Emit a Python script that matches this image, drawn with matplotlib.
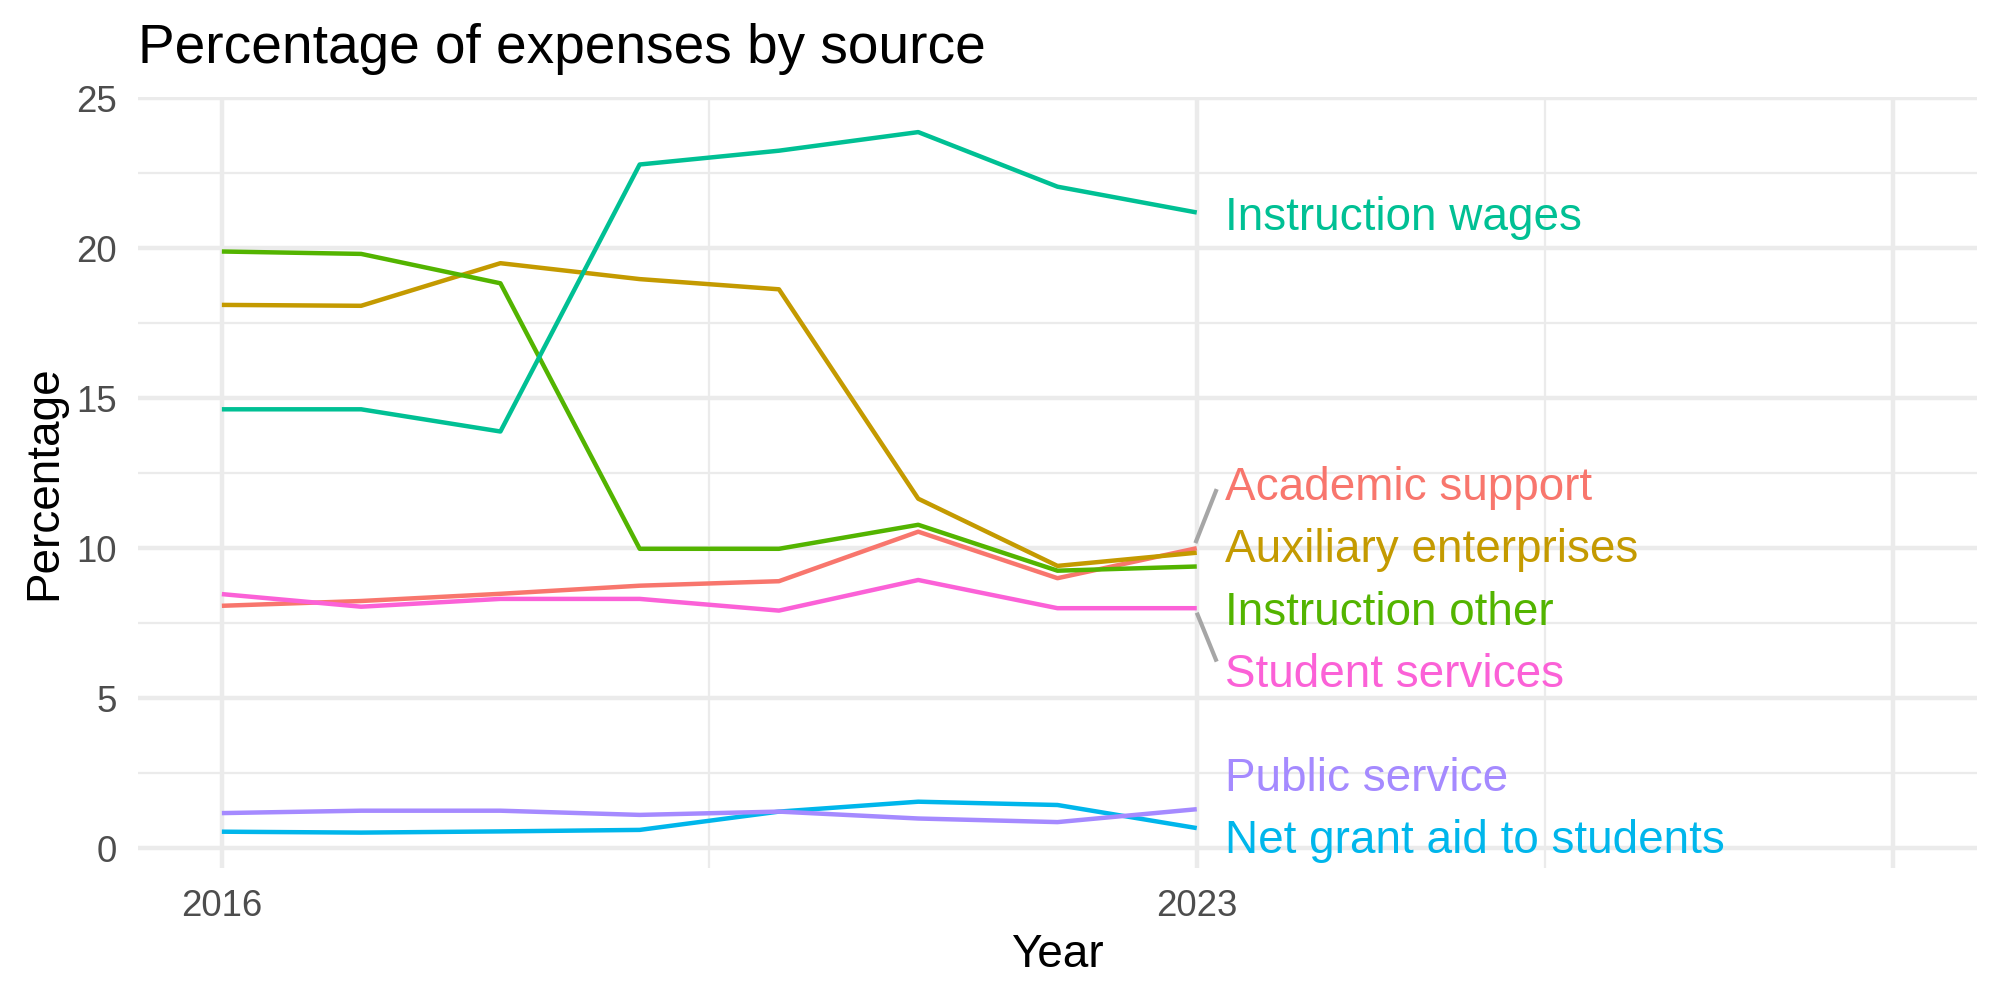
import matplotlib
matplotlib.use("Agg")
import matplotlib.pyplot as plt

plt.rcParams['font.family'] = ['Liberation Sans', 'DejaVu Sans']

# data
years = [2016, 2017, 2018, 2019, 2020, 2021, 2022, 2023]

academic_support = [8.08, 8.24, 8.48, 8.75, 8.90, 10.55, 9.00, 10.00]
auxiliary_enterprises = [18.11, 18.08, 19.50, 18.97, 18.63, 11.65, 9.41, 9.85]
instruction_other = [19.89, 19.81, 18.83, 9.98, 9.98, 10.78, 9.25, 9.39]
instruction_wages = [14.63, 14.63, 13.89, 22.79, 23.25, 23.87, 22.05, 21.19]
net_grant_aid = [0.55, 0.52, 0.56, 0.61, 1.22, 1.55, 1.44, 0.67]
public_service = [1.17, 1.25, 1.25, 1.11, 1.22, 0.99, 0.87, 1.30]
student_services = [8.47, 8.05, 8.31, 8.31, 7.92, 8.94, 8.00, 8.00]

names = ["Academic support", "Auxiliary enterprises", "Instruction other",
         "Instruction wages", "Net grant aid to students", "Public service",
         "Student services"]
series = [academic_support, auxiliary_enterprises, instruction_other,
          instruction_wages, net_grant_aid, public_service, student_services]
colors = ["#F8766D", "#C49A00", "#53B400", "#00C094", "#00B6EB", "#A58AFF", "#FB61D7"]

# where the repelled labels ended up (value units)
label_y = [12.15, 10.09, 8.00, 21.16, 0.40, 2.47, 5.91]
label_x = 2023.2

x_breaks = [2016, 2023, 2028]
x_labels = ["2016", "2023", ""]
x_minor = [2019.5, 2025.5]
y_breaks = [0, 5, 10, 15, 20, 25]
y_minor = [2.5, 7.5, 12.5, 17.5, 22.5]

fig = plt.figure(figsize=(2000 / 300, 1000 / 300), dpi=300)
ax = fig.add_axes([138.3 / 2000, 1 - 867.7 / 1000,
                   (1976.7 - 138.3) / 2000, (867.7 - 96.7) / 1000])

ax.set_xlim(2015.4, 2028.6)
ax.set_ylim(-0.65, 25.05)

grid_col = "#EBEBEB"
for v in y_breaks:
    ax.axhline(v, color=grid_col, lw=1.07, zorder=0)
for v in y_minor:
    ax.axhline(v, color=grid_col, lw=0.53, zorder=0)
for v in x_breaks:
    ax.axvline(v, color=grid_col, lw=1.07, zorder=0)
for v in x_minor:
    ax.axvline(v, color=grid_col, lw=0.53, zorder=0)

for name, vals, c in zip(names, series, colors):
    ax.plot(years, vals, color=c, lw=1.07, solid_capstyle='butt',
            solid_joinstyle='round', zorder=2)

# label segments (ggrepel style)
seg_col = "#A6A6A6"
ax.plot([2022.99, 2023.143], [10.17, 11.97], color=seg_col, lw=1.0,
        solid_capstyle='butt', zorder=3)
ax.plot([2023.0, 2023.143], [7.85, 6.22], color=seg_col, lw=1.0,
        solid_capstyle='butt', zorder=3)

for name, ly, c in zip(names, label_y, colors):
    ax.annotate(name, xy=(label_x, ly), xytext=(0, -3.94),
                textcoords='offset points', ha='left', va='baseline',
                fontsize=11, color=c, zorder=4)

ax.set_xticks(x_breaks)
ax.set_xticklabels(x_labels)
ax.set_yticks(y_breaks)
ax.set_yticklabels([str(v) for v in y_breaks])
ax.tick_params(length=0, pad=5.18, labelsize=8.8, labelcolor="#4D4D4D")
for s in ax.spines.values():
    s.set_visible(False)

fig.text(138.3 / 2000, 1 - 62.7 / 1000, "Percentage of expenses by source",
         fontsize=13.2, ha='left', va='baseline')
fig.text(1057.5 / 2000, 1 - 966.7 / 1000, "Year", fontsize=11,
         ha='center', va='baseline')
fig.text(22.0 / 2000, 1 - 482.2 / 1000, "Percentage", fontsize=11,
         rotation=90, ha='left', va='center')

fig.savefig("out.png", dpi=300)
